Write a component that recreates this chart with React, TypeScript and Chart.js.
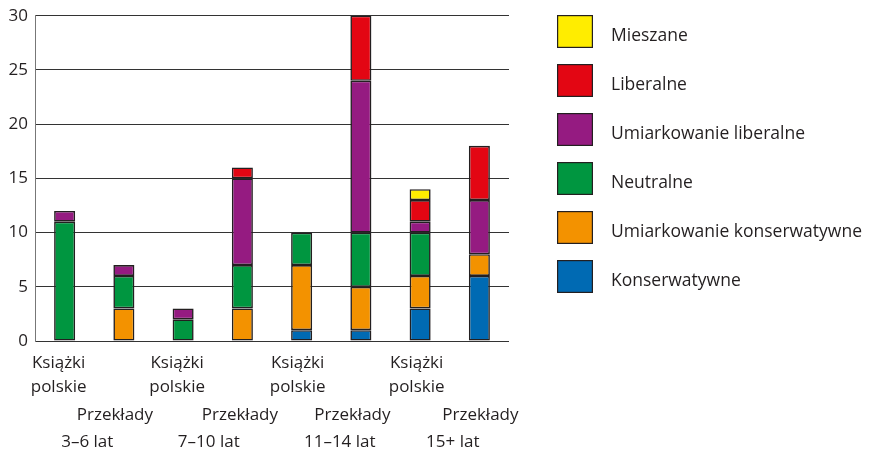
import React, { useEffect, useRef } from "react";
import { Chart, registerables } from "chart.js";

Chart.register(...registerables);

const categories = [
  "Książki polskie",
  "Przekłady",
  "Książki polskie",
  "Przekłady",
  "Książki polskie",
  "Przekłady",
  "Książki polskie",
  "Przekłady",
];
const groups = ["3–6 lat", "7–10 lat", "11–14 lat", "15+ lat"];
const yTicks = [0, 5, 10, 15, 20, 25, 30];

const konserwatywne = [0, 0, 0, 0, 1, 1, 3, 6];
const umiarkowanieKonserwatywne = [0, 3, 0, 3, 6, 4, 3, 2];
const neutralne = [11, 3, 2, 4, 3, 5, 4, 0];
const umiarkowanieLiberalne = [1, 1, 1, 8, 0, 14, 1, 5];
const liberalne = [0, 0, 0, 1, 0, 6, 2, 5];
const mieszane = [0, 0, 0, 0, 0, 0, 1, 0];

const seriesNames = [
  "Konserwatywne",
  "Umiarkowanie konserwatywne",
  "Neutralne",
  "Umiarkowanie liberalne",
  "Liberalne",
  "Mieszane",
];
const seriesValues = [
  konserwatywne,
  umiarkowanieKonserwatywne,
  neutralne,
  umiarkowanieLiberalne,
  liberalne,
  mieszane,
];
const seriesColors = ["#006AB3", "#F39200", "#009640", "#951B81", "#E30613", "#FFED00"];

const FONT = '"Open Sans", "Noto Sans", sans-serif';
const TEXT = "#231f20";

// label nudges relative to the category centres (styling only)
const bookNudge = [-6, -6, -4, -3.5];
const translationNudge = [-9, -2.5, -8.5, 1];
const groupNudge = [-7, -4, 8.5, 3];

const labelsPlugin = {
  id: "customLabels",
  afterDraw(chart: any) {
    const ctx = chart.ctx;
    const x = chart.scales.x;
    const area = chart.chartArea;
    ctx.save();
    ctx.fillStyle = TEXT;
    ctx.font = `17px ${FONT}`;
    ctx.textAlign = "center";
    ctx.textBaseline = "alphabetic";
    const base = area.bottom;
    categories.forEach((c, i) => {
      const px = x.getPixelForValue(i);
      const g = Math.floor(i / 2);
      if (i % 2 === 0) {
        const parts = c.split(" ");
        ctx.fillText(parts[0], px + bookNudge[g], base + 27);
        ctx.fillText(parts[1], px + bookNudge[g], base + 50.5);
      } else {
        ctx.fillText(c, px + translationNudge[g], base + 78.5);
      }
    });
    groups.forEach((gl, gi) => {
      const px = (x.getPixelForValue(gi * 2) + x.getPixelForValue(gi * 2 + 1)) / 2;
      ctx.fillText(gl, px + groupNudge[gi], base + 105.5);
    });

    // legend
    const lx = area.right + 48;
    const ly = area.top - 0.7;
    ctx.font = `17.5px ${FONT}`;
    ctx.textAlign = "left";
    ctx.textBaseline = "alphabetic";
    const ds = chart.data.datasets;
    for (let k = 0; k < ds.length; k++) {
      const d = ds[ds.length - 1 - k];
      const top = ly + k * 49;
      ctx.fillStyle = d.backgroundColor;
      ctx.fillRect(lx, top, 36, 33);
      ctx.strokeStyle = "#231f20";
      ctx.lineWidth = 1.2;
      ctx.strokeRect(lx + 0.6, top + 0.6, 34.8, 31.8);
      ctx.fillStyle = TEXT;
      ctx.fillText(d.label, lx + 54, top + 25.5);
    }
    ctx.restore();
  },
};

export default function App() {
  const ref = useRef<HTMLCanvasElement | null>(null);
  useEffect(() => {
    if (!ref.current) return;
    const chart = new Chart(ref.current, {
      type: "bar",
      data: {
        labels: categories,
        datasets: seriesNames.map((name, i) => ({
          label: name,
          data: seriesValues[i],
          backgroundColor: seriesColors[i],
          borderColor: "#231f20",
          borderWidth: 1.6,
          borderSkipped: false,
          barPercentage: 0.355,
          categoryPercentage: 1,
        })),
      },
      options: {
        animation: false,
        responsive: true,
        maintainAspectRatio: false,
        layout: { padding: { left: 0, right: 354, top: 7.7, bottom: 108 } },
        plugins: {
          legend: { display: false },
          tooltip: { enabled: false },
          title: { display: false },
        },
        scales: {
          x: {
            stacked: true,
            display: false,
          },
          y: {
            stacked: true,
            min: 0,
            max: 30,
            afterBuildTicks(scale: any) {
              scale.ticks = yTicks.map((v) => ({ value: v }));
            },
            afterFit(scale: any) {
              scale.width = 27;
              scale.paddingTop = 0;
              scale.paddingBottom = 0;
            },
            ticks: {
              stepSize: 5,
              padding: 7,
              color: TEXT,
              font: { family: FONT, size: 17 },
            },
            grid: {
              color: "#333333",
              lineWidth: 1,
              drawTicks: false,
            },
            border: { display: true, color: "#777777", width: 1 },
          },
        },
      },
      plugins: [labelsPlugin],
    });
    return () => chart.destroy();
  }, []);
  return (
    <div style={{ width: "855px", height: "441px", position: "relative" }}>
      <canvas ref={ref} />
    </div>
  );
}
